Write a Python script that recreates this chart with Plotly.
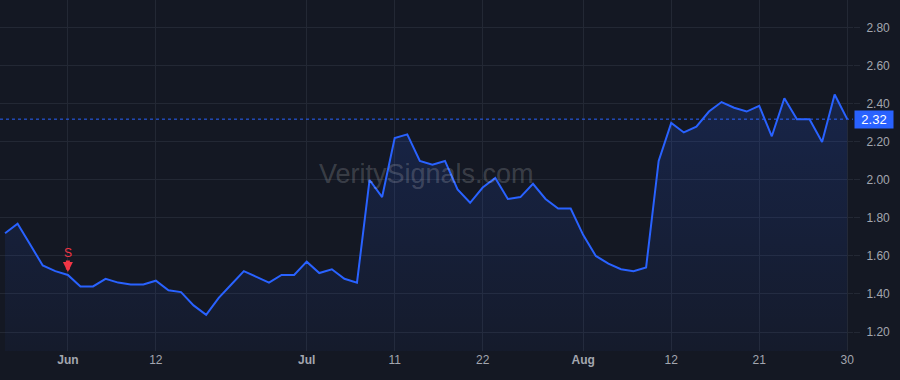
import pandas as pd
import plotly.graph_objects as go

# Trading days (US market, 2024) covered by the chart
holidays = ["2024-05-27", "2024-06-19", "2024-07-04"]
dates = [d.strftime("%Y-%m-%d") for d in pd.bdate_range("2024-05-24", "2024-08-30")
         if d.strftime("%Y-%m-%d") not in holidays]

prices = [1.72, 1.77, 1.66, 1.55, 1.52, 1.50, 1.44, 1.44, 1.48, 1.46,
          1.45, 1.45, 1.47, 1.42, 1.41, 1.34, 1.29, 1.38, 1.45, 1.52,
          1.49, 1.46, 1.50, 1.50, 1.57, 1.51, 1.53, 1.48, 1.46, 2.00,
          1.91, 2.22, 2.24, 2.10, 2.08, 2.10, 1.95, 1.88, 1.96, 2.01,
          1.90, 1.91, 1.98, 1.90, 1.85, 1.85, 1.71, 1.60, 1.56, 1.53,
          1.52, 1.54, 2.10, 2.30, 2.25, 2.28, 2.36, 2.41, 2.38, 2.36,
          2.39, 2.23, 2.43, 2.32, 2.32, 2.20, 2.45, 2.32]

tick_dates = ["2024-06-03", "2024-06-12", "2024-07-01", "2024-07-11", "2024-07-22",
              "2024-08-01", "2024-08-12", "2024-08-21", "2024-08-30"]
tick_text = ["<b>Jun</b>", "12", "<b>Jul</b>", "11", "22", "<b>Aug</b>", "12", "21", "30"]
y_ticks = [1.20, 1.40, 1.60, 1.80, 2.00, 2.20, 2.40, 2.60, 2.80]

signal_date = "2024-06-03"
signal_label = "S"
last_price = prices[-1]
watermark = "VeritySignals.com"

BG = "#141823"
GRID = "#232834"
BLUE = "#2962ff"
TXT = "#a3a6af"
RED = "#f23645"

x = list(range(len(dates)))
tickvals = [dates.index(d) for d in tick_dates]
y_range = [1.10, 2.947]

fig = go.Figure()
fig.add_trace(go.Scatter(
    x=x, y=prices, mode="lines",
    line=dict(color=BLUE, width=2),
    fill="tozeroy",
    fillgradient=dict(type="vertical",
                      colorscale=[[0, "rgba(41,98,255,0.04)"], [1, "rgba(41,98,255,0.17)"]],
                      start=y_range[0], stop=max(prices)),
    hoverinfo="x+y", showlegend=False,
))

# dotted last-price line
fig.add_shape(type="line", xref="paper", yref="y", x0=0, x1=1,
              y0=last_price, y1=last_price,
              line=dict(color=BLUE, width=1, dash="dot"))

# last-price label
fig.add_annotation(xref="paper", yref="y", x=1, y=last_price, xanchor="left",
                   yanchor="middle", xshift=1, text=f"{last_price:.2f}",
                   showarrow=False, bgcolor=BLUE, width=36, height=15, borderpad=1,
                   font=dict(color="white", size=13, family="Liberation Sans"))

# sell signal: label + block arrow
si = dates.index(signal_date)
fig.add_annotation(x=si, y=prices[si], xref="x", yref="y", text=signal_label,
                   showarrow=False, yshift=22,
                   font=dict(color=RED, size=12, family="Liberation Sans"))
fig.add_annotation(x=si, y=prices[si], xref="x", yref="y", text="",
                   showarrow=True, ax=0, ay=-16, standoff=3,
                   arrowhead=2, arrowsize=0.5, arrowwidth=4, arrowcolor=RED)

# watermark
fig.add_annotation(xref="paper", yref="paper", x=0.5, y=0.505, text=watermark,
                   showarrow=False, font=dict(size=27, color="rgba(255,255,255,0.18)",
                                              family="Liberation Sans"))

fig.update_layout(
    width=900, height=380,
    margin=dict(l=0, r=47, t=0, b=29),
    paper_bgcolor=BG, plot_bgcolor=BG,
    font=dict(family="Liberation Sans", size=12, color=TXT),
    xaxis=dict(range=[-0.4, 67.46], tickvals=tickvals, ticktext=tick_text,
               showgrid=True, gridcolor=GRID, gridwidth=1, zeroline=False,
               showline=False, ticks="", tickfont=dict(color=TXT, size=12)),
    yaxis=dict(range=y_range, side="right", tickvals=y_ticks, tickformat=".2f",
               showgrid=True, gridcolor=GRID, gridwidth=1, zeroline=False,
               showline=False, ticks="outside", ticklen=6, tickcolor=GRID,
               ticklabelstandoff=4, tickfont=dict(color=TXT, size=12)),
)

fig.write_html("out.html")
